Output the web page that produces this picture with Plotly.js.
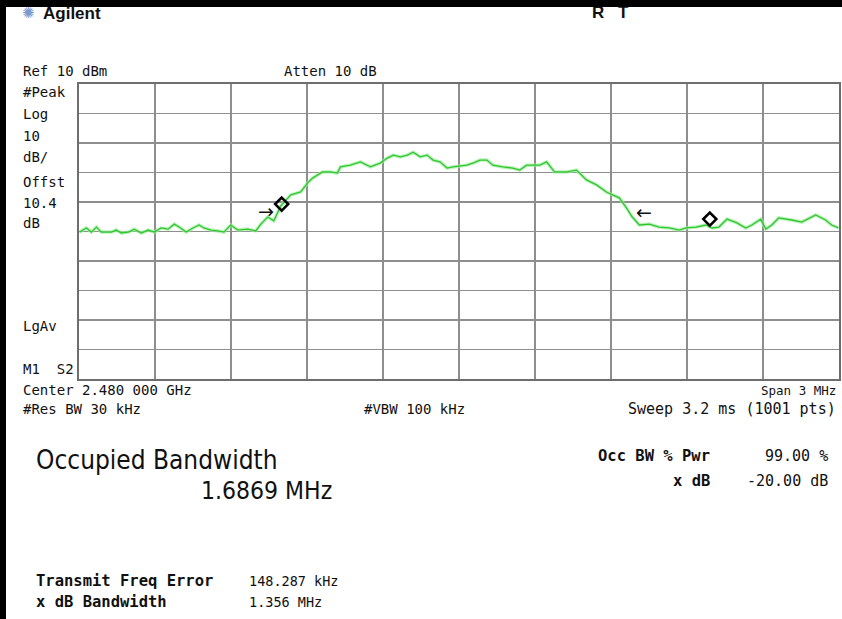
<!DOCTYPE html>
<html>
<head>
<meta charset="utf-8">
<script src="https://cdn.plot.ly/plotly-3.0.1.min.js"></script>
<style>
  html, body { margin: 0; padding: 0; background: #fff; }
  #wrap { position: relative; width: 842px; height: 619px; overflow: hidden; }
  #chart { position: absolute; left: 0; top: 0; width: 842px; height: 619px; }
  .bar { position: absolute; background: #000; pointer-events: none; }
</style>
</head>
<body>
<div id="wrap">
  <div id="chart"></div>
  <div class="bar" style="left:0;top:0;width:842px;height:7px;"></div>
  <div class="bar" style="left:0;top:0;width:6px;height:619px;"></div>
</div>
<script>
// Trace: frequency (MHz) and level (dBm)
const freqMHz = [
  2478.502, 2478.529, 2478.549, 2478.569, 2478.588, 2478.628, 2478.647, 2478.667,
  2478.695, 2478.718, 2478.746, 2478.773, 2478.797, 2478.824, 2478.852, 2478.876,
  2478.895, 2478.923, 2478.950, 2478.974, 2478.993, 2479.021, 2479.048, 2479.072,
  2479.099, 2479.127, 2479.166, 2479.198, 2479.218, 2479.245, 2479.269, 2479.296,
  2479.336, 2479.375, 2479.402, 2479.422, 2479.461, 2479.493, 2479.520, 2479.532,
  2479.571, 2479.611, 2479.650, 2479.689, 2479.717, 2479.741, 2479.768, 2479.796,
  2479.819, 2479.847, 2479.874, 2479.898, 2479.925, 2479.953, 2479.976, 2480.004,
  2480.031, 2480.055, 2480.083, 2480.110, 2480.134, 2480.173, 2480.212, 2480.240,
  2480.267, 2480.319, 2480.346, 2480.377, 2480.425, 2480.464, 2480.503, 2480.543,
  2480.582, 2480.606, 2480.633, 2480.661, 2480.684, 2480.712, 2480.751, 2480.790,
  2480.830, 2480.869, 2480.897, 2480.936, 2480.975, 2480.999, 2481.026, 2481.058,
  2481.097, 2481.132, 2481.156, 2481.191, 2481.211, 2481.235, 2481.262, 2481.313,
  2481.353, 2481.408, 2481.447, 2481.471, 2481.498
];
const levelDBm = [
  -40.2, -38.8, -40.2, -38.5, -40.2, -40.2, -39.5, -40.5,
  -40.2, -39.2, -40.5, -39.5, -40.2, -38.8, -39.2, -37.5,
  -38.5, -40.2, -38.8, -37.8, -38.8, -39.5, -39.8, -40.2,
  -37.8, -39.5, -39.2, -39.8, -37.5, -35.1, -36.4, -31.4,
  -27.6, -26.6, -23.6, -21.9, -19.8, -19.8, -20.2, -18.1,
  -17.5, -16.4, -18.1, -16.8, -15.1, -14.1, -14.7, -14.1,
  -13.1, -14.7, -14.1, -15.8, -16.4, -18.5, -18.1, -17.8,
  -17.5, -16.8, -15.8, -15.8, -17.5, -18.1, -18.5, -19.2,
  -17.5, -17.5, -16.4, -19.8, -19.8, -19.2, -22.5, -24.2,
  -26.6, -27.6, -28.6, -32.0, -35.1, -37.8, -37.5, -38.5,
  -38.8, -39.5, -38.8, -38.5, -37.8, -38.8, -38.5, -35.8,
  -37.1, -38.8, -37.8, -35.8, -39.2, -37.8, -35.4, -36.1,
  -36.8, -34.4, -36.1, -37.8, -38.8
];
// Occupied-bandwidth markers (diamonds)
const markerFreq = [2479.300, 2480.990];
const markerLevel = [-30.7, -35.8];
// Arrow flags
const arrowFreq = [2479.237, 2480.731];
const arrowLevel = [-33.1, -33.4];
const arrowText = ["→", "←"];

const centerMHz = 2480.0, spanMHz = 3.0;
const refLevel = 10, dbPerDiv = 10;

const W = 842, H = 619;
const L = 79, R = 839, T = 84, B = 379;
function px(x) { return (x - L) / (R - L); }
function py(y) { return 1 - (y - T) / (B - T); }

const mono = "DejaVu Sans Mono, Liberation Mono, monospace";
const boldf = "DejaVu Sans Mono, monospace";
const cond = "DejaVu Sans Condensed, DejaVu Sans, sans-serif";

function txt(text, x, y, opts) {
  opts = opts || {};
  return {
    xref: "paper", yref: "paper", x: px(x), y: py(y),
    text: text, showarrow: false,
    xanchor: opts.anchor || "left", yanchor: "middle",
    font: { family: opts.family || mono, size: opts.size || 14, color: opts.color || "#111",
            weight: opts.weight || "normal" }
  };
}

const annotations = [
  txt("✺", 20, 13, { family: "DejaVu Sans", size: 15, color: "#7b9bd0" }),
  txt("Agilent", 41, 14, { family: "Liberation Sans, Arial, sans-serif", size: 17, weight: "bold" }),
  txt("R", 590, 12, { family: "Liberation Sans, sans-serif", size: 17, weight: "bold" }),
  txt("T", 616, 12, { family: "Liberation Sans, sans-serif", size: 17, weight: "bold" }),
  txt("Ref 10 dBm", 21, 71),
  txt("Atten 10 dB", 282, 71),
  txt("#Peak", 21, 92),
  txt("Log", 21, 114),
  txt("10", 21, 136),
  txt("dB/", 21, 157),
  txt("Offst", 21, 182),
  txt("10.4", 21, 203),
  txt("dB", 21, 223),
  txt("LgAv", 21, 326),
  txt("M1  S2", 21, 369),
  txt("Center 2.480 000 GHz", 21, 390),
  txt("Span 3 MHz", 838, 390, { anchor: "right", size: 12.5 }),
  txt("#Res BW 30 kHz", 21, 409),
  txt("#VBW 100 kHz", 362, 409),
  txt("Sweep 3.2 ms (1001 pts)", 838, 409, { anchor: "right", size: 15 }),
  txt("Occupied Bandwidth", 34, 460, { family: cond, size: 26 }),
  txt("1.6869 MHz", 199, 490, { family: cond, size: 24.5 }),
  txt("Occ BW % Pwr", 712, 456, { family: boldf, size: 15.5, weight: "bold", anchor: "right" }),
  txt("99.00 %", 830, 456, { anchor: "right", size: 15 }),
  txt("x dB", 712, 481, { family: boldf, size: 15.5, weight: "bold", anchor: "right" }),
  txt("-20.00 dB", 830, 481, { anchor: "right", size: 15 }),
  txt("Transmit Freq Error", 34, 581, { family: boldf, size: 15.5, weight: "bold" }),
  txt("148.287 kHz", 247, 581, { size: 13.5 }),
  txt("x dB Bandwidth", 34, 602, { family: boldf, size: 15.5, weight: "bold" }),
  txt("1.356 MHz", 247, 602, { size: 13.5 })
];

for (let i = 0; i < arrowFreq.length; i++) {
  annotations.push({
    xref: "x", yref: "y", x: arrowFreq[i], y: arrowLevel[i], text: arrowText[i],
    showarrow: false, xanchor: "center", yanchor: "middle",
    font: { family: "DejaVu Sans", size: 19, color: "#111" }
  });
}

const traces = [
  { x: freqMHz, y: levelDBm, type: "scatter", mode: "lines",
    line: { color: "rgba(160,235,160,0.7)", width: 3.5 }, hoverinfo: "skip" },
  { x: freqMHz, y: levelDBm, type: "scatter", mode: "lines",
    line: { color: "#2ec82e", width: 1.3 } },
  { x: markerFreq, y: markerLevel, type: "scatter", mode: "markers",
    marker: { symbol: "diamond-open", size: 10, color: "#000", line: { width: 2.6, color: "#000" } } }
];

const layout = {
  width: W, height: H,
  margin: { l: L, r: W - R, t: T, b: H - B, pad: 0 },
  paper_bgcolor: "#fff", plot_bgcolor: "#fff",
  showlegend: false,
  xaxis: {
    range: [centerMHz - spanMHz / 2, centerMHz + spanMHz / 2],
    dtick: spanMHz / 10, tick0: centerMHz - spanMHz / 2,
    showticklabels: false, ticks: "",
    showgrid: true, gridcolor: "#8e8e8e", gridwidth: 1.5,
    zeroline: false, showline: true, mirror: true, linecolor: "#6e6e6e", linewidth: 2
  },
  yaxis: {
    range: [refLevel - 10 * dbPerDiv, refLevel],
    dtick: dbPerDiv, tick0: refLevel,
    showticklabels: false, ticks: "",
    showgrid: true, gridcolor: "#8e8e8e", gridwidth: 1.5,
    zeroline: false, showline: true, mirror: true, linecolor: "#6e6e6e", linewidth: 2
  },
  annotations: annotations
};

Plotly.newPlot("chart", traces, layout, { staticPlot: true, displayModeBar: false });
</script>
</body>
</html>
